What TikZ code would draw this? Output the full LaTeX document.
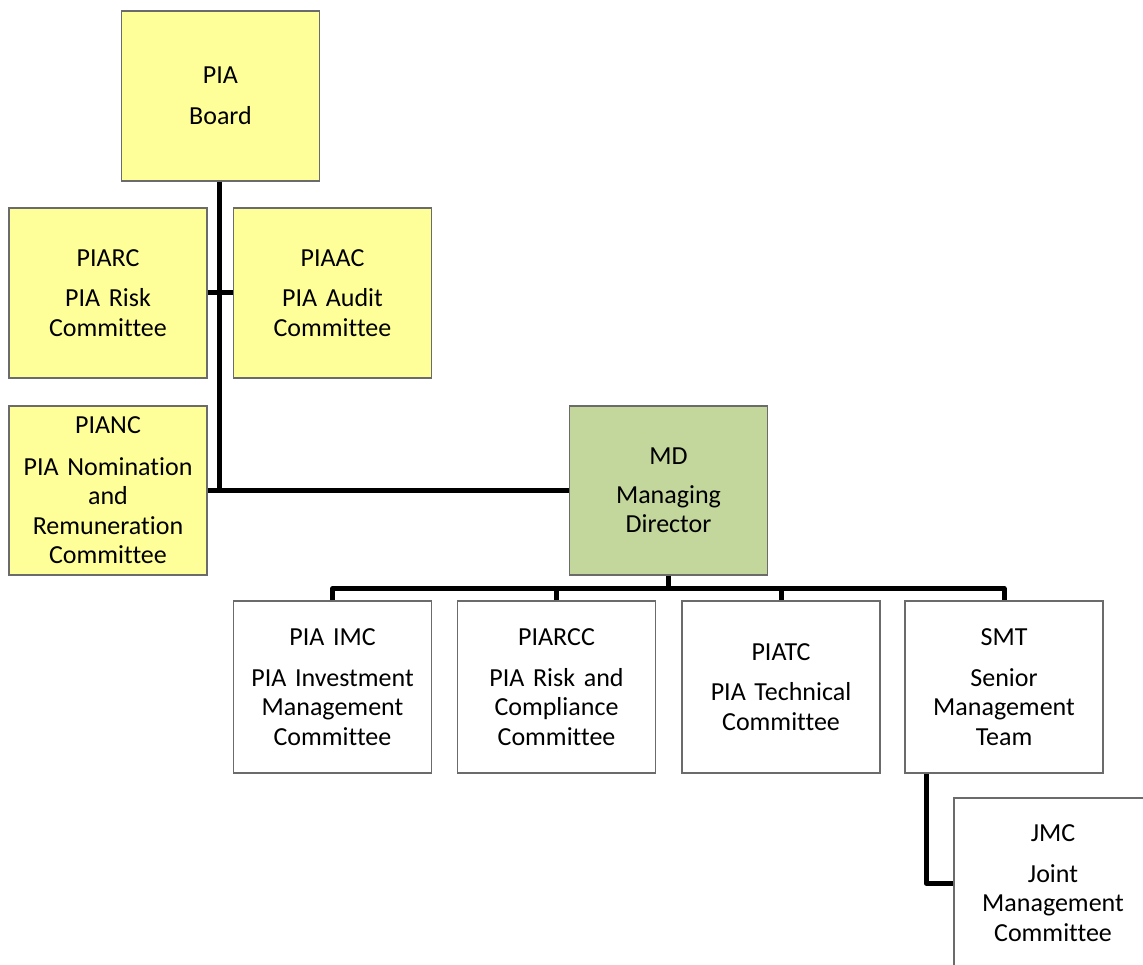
\documentclass[tikz,border=0pt]{standalone}
\usepackage{fontspec}
\setmainfont{Carlito}[RawFeature={-liga}]
\definecolor{boardyellow}{HTML}{FFFF99}
\definecolor{mdgreen}{HTML}{C3D69B}
\definecolor{boxline}{HTML}{6B6B6B}
\tikzset{
  orgbox/.style={draw=boxline, line width=1.2pt, minimum width=198pt, minimum height=170pt,
    inner sep=2pt, align=center, text width=194pt,
    font=\fontsize{26}{29.5}\selectfont},
  yellowbox/.style={orgbox, fill=boardyellow},
  greenbox/.style={orgbox, fill=mdgreen},
  whitebox/.style={orgbox, fill=white, minimum height=172pt},
  link/.style={draw=black, line width=5pt, line join=round}
}
\begin{document}
\begin{tikzpicture}[x=1pt,y=-1pt]
\clip (0,0) rectangle (1143,965);
\useasboundingbox (0,0) rectangle (1143,965);
% upper level
\node[yellowbox, minimum height=170pt] (board) at (220.5,96) {PIA\\[12pt]Board};
\node[yellowbox] (piarc) at (108,293) {PIARC\\[11pt]PIA Risk\\Committee};
\node[yellowbox] (piaac) at (332.5,293) {PIAAC\\[11pt]PIA Audit\\Committee};
\node[yellowbox, minimum height=169pt] (pianc) at (108,490.5) {PIANC\\[12pt]PIA Nomination\\and\\Remuneration\\Committee};
\node[greenbox, minimum height=169pt] (md) at (668.5,490.5) {MD\\[9pt]Managing\\Director};
% lower level
\node[whitebox] (imc) at (332.5,687) {PIA IMC\\[11pt]PIA Investment\\Management\\Committee};
\node[whitebox] (arcc) at (556.5,687) {PIARCC\\[11pt]PIA Risk and\\Compliance\\Committee};
\node[whitebox] (tc) at (781,687) {PIATC\\[11pt]PIA Technical\\Committee};
\node[whitebox] (smt) at (1004,687) {SMT\\[11pt]Senior\\Management\\Team};
\node[whitebox, minimum height=170pt] (jmc) at (1053,883) {JMC\\[11pt]Joint\\Management\\Committee};
% connectors
\coordinate (trunk) at ([xshift=-1.5pt]board.south);
\draw[link] (trunk) |- (md.west);
\draw[link] (piarc.east) -- (piaac.west);
\draw[link] (pianc.east) -- (md.west);
\coordinate (bus) at ([yshift=-13pt]md.south);
\draw[link] (md.south) -- (bus);
\draw[link] (imc.north) |- (bus) -| (smt.north);
\draw[link] (arcc.north) -- (arcc.north |- bus);
\draw[link] (tc.north) -- (tc.north |- bus);
\draw[link] ([xshift=-78pt]smt.south) |- (jmc.west);
\end{tikzpicture}
\end{document}
